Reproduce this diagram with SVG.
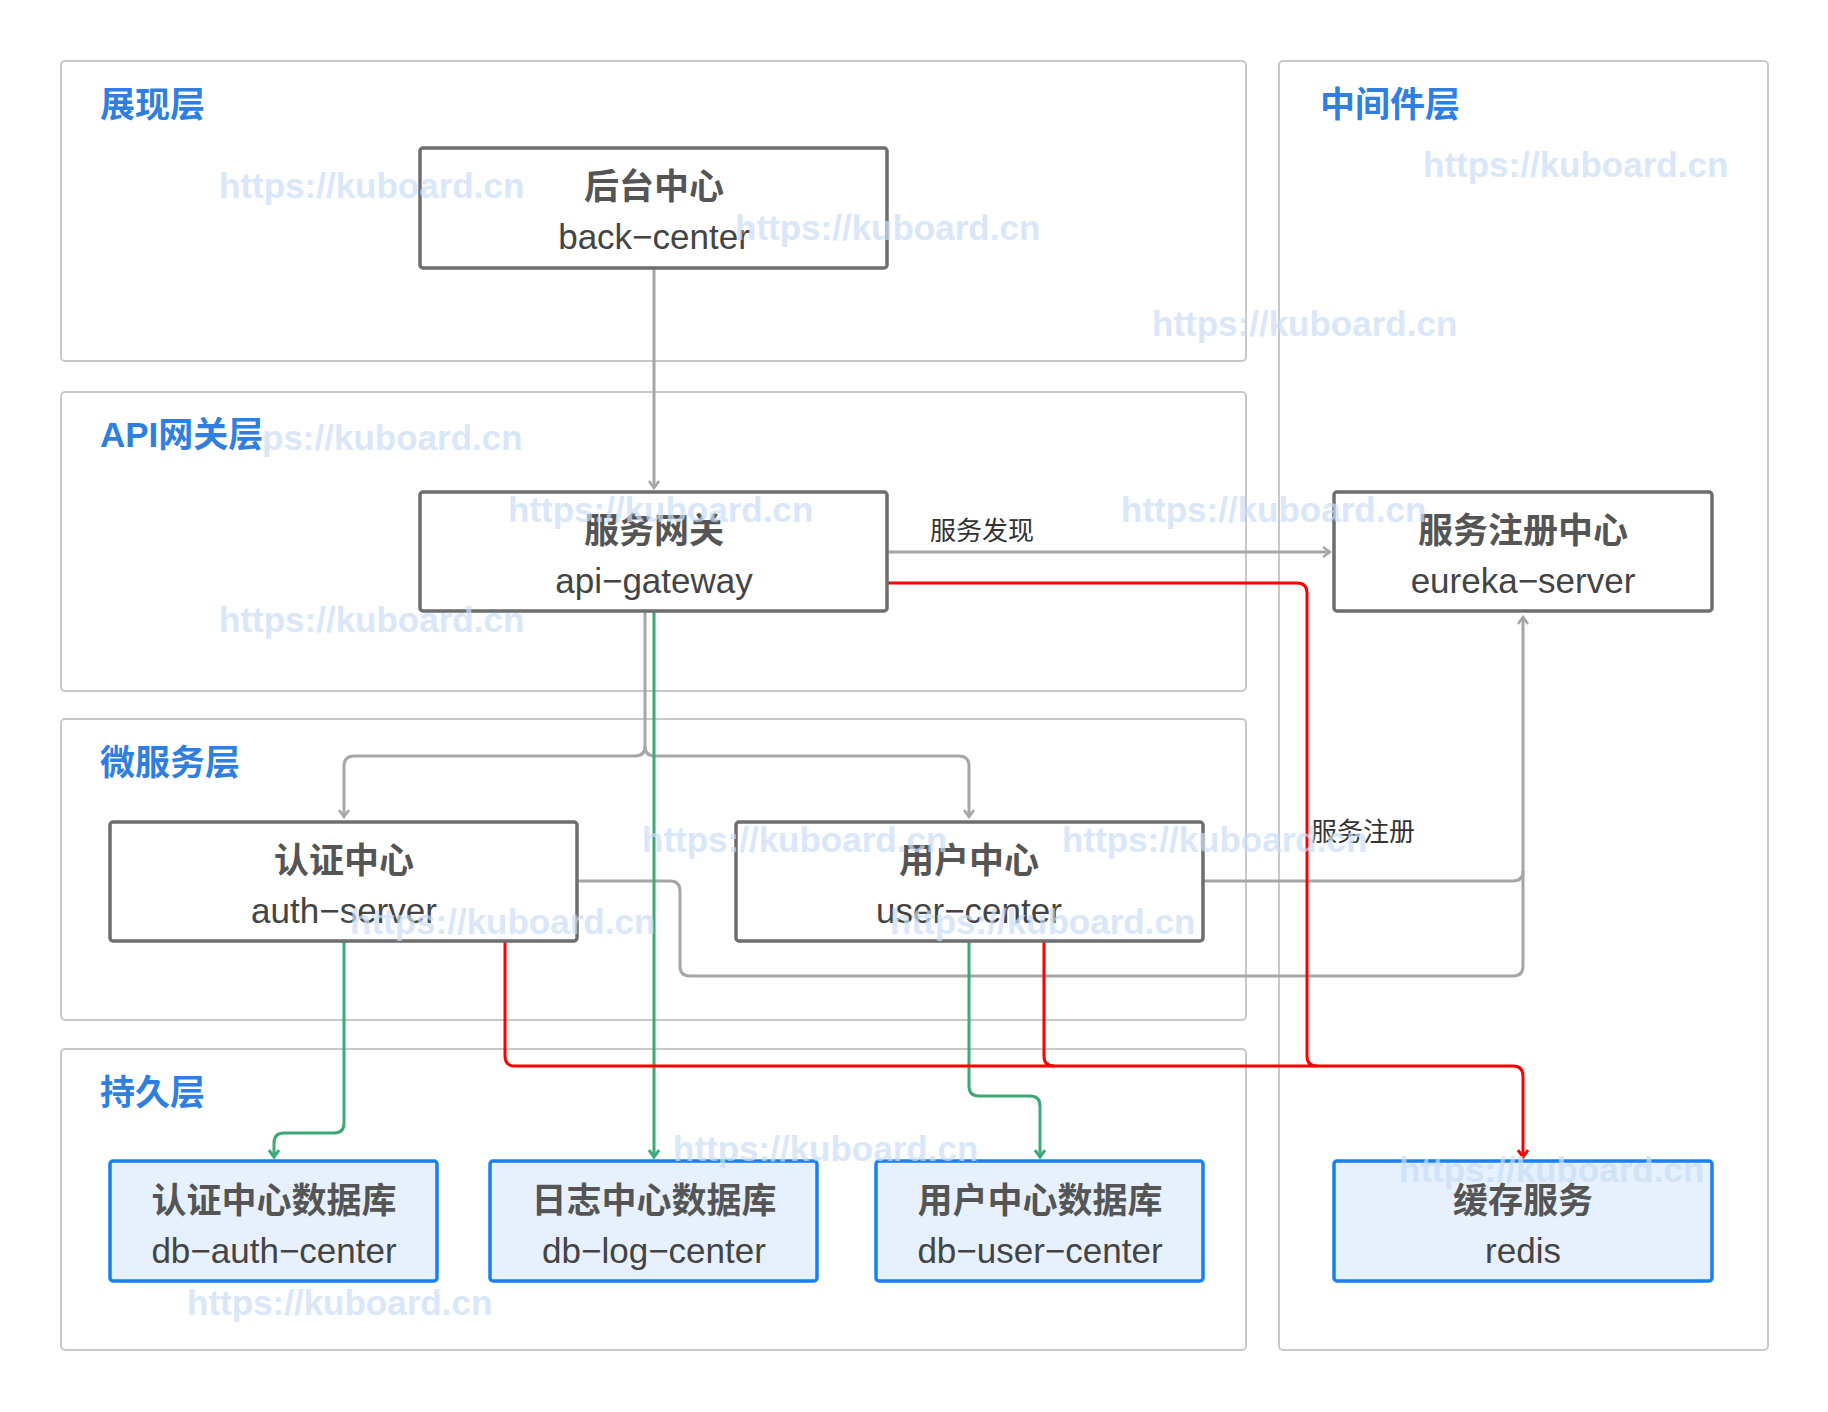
<svg xmlns="http://www.w3.org/2000/svg" width="1828" height="1412" viewBox="0 0 1828 1412">
<defs>
<marker id="ag" viewBox="0 0 12 12" refX="10" refY="6" markerWidth="12" markerHeight="12" markerUnits="userSpaceOnUse" orient="auto"><path d="M3,1 L10,6 L3,11" fill="none" stroke="#a6a6a6" stroke-width="2.5"/></marker>
<marker id="agn" viewBox="0 0 12 12" refX="10" refY="6" markerWidth="12" markerHeight="12" markerUnits="userSpaceOnUse" orient="auto"><path d="M3,1 L10,6 L3,11" fill="none" stroke="#3daa75" stroke-width="3"/></marker>
<marker id="ard" viewBox="0 0 12 12" refX="10" refY="6" markerWidth="12" markerHeight="12" markerUnits="userSpaceOnUse" orient="auto"><path d="M3,1 L10,6 L3,11" fill="none" stroke="#ff0000" stroke-width="3"/></marker>
</defs>
<style>
.layer{fill:#fff;stroke:#c8c8c8;stroke-width:2}
.lt{font-family:"Liberation Sans","Noto Sans CJK SC",sans-serif;font-size:35px;font-weight:bold;fill:#2f7fe0}
.node{fill:#fff;stroke:#6e6e6e;stroke-width:3.5}
.db{fill:#e6f1fd;stroke:#1a7ff0;stroke-width:3.5}
.t1{font-family:"Liberation Sans","Noto Sans CJK SC",sans-serif;font-size:35px;font-weight:bold;fill:#555;text-anchor:middle}
.t2{font-family:"Liberation Sans","Noto Sans CJK SC",sans-serif;font-size:35px;fill:#444;text-anchor:middle}
.gr{fill:none;stroke:#a6a6a6;stroke-width:3}
.gn{fill:none;stroke:#3daa75;stroke-width:3}
.rd{fill:none;stroke:#ff0000;stroke-width:3}
.cl{font-family:"Liberation Sans","Noto Sans CJK SC",sans-serif;font-size:26px;fill:#333}
.wm{font-family:"Liberation Sans",sans-serif;font-size:35px;font-weight:bold;fill:#c9def7;opacity:0.7}
</style>
<g id="layers">
<rect class="layer" x="61" y="61" width="1185" height="300" rx="4"/>
<rect class="layer" x="61" y="392" width="1185" height="299" rx="4"/>
<rect class="layer" x="61" y="719" width="1185" height="301" rx="4"/>
<rect class="layer" x="61" y="1049" width="1185" height="301" rx="4"/>
<rect class="layer" x="1279" y="61" width="489" height="1289" rx="4"/>
<text class="lt" x="100" y="117">展现层</text>
<text class="lt" x="100" y="447">API网关层</text>
<text class="lt" x="100" y="775">微服务层</text>
<text class="lt" x="100" y="1105">持久层</text>
<text class="lt" x="1320" y="117">中间件层</text>
</g>
<g id="connectors">
<path class="gr" d="M654,268 V488" marker-end="url(#ag)"/>
<path class="gr" d="M887,552 H1330" marker-end="url(#ag)"/>
<text class="cl" x="930" y="540">服务发现</text>
<path class="gr" d="M645,611 V746 Q645,756 635,756 H354 Q344,756 344,766 V817" marker-end="url(#ag)"/>
<path class="gr" d="M645,746 Q645,756 655,756 H959 Q969,756 969,766 V817" marker-end="url(#ag)"/>
<path class="gr" d="M577,881 H670 Q680,881 680,891 V966 Q680,976 690,976 H1513 Q1523,976 1523,966 V617" marker-end="url(#ag)"/>
<path class="gr" d="M1203,881 H1513 Q1523,881 1523,871"/>
<text class="cl" x="1311" y="841">服务注册</text>
<path class="gn" d="M654,611 V1157" marker-end="url(#agn)"/>
<path class="gn" d="M344,941 V1123 Q344,1133 334,1133 H284 Q274,1133 274,1143 V1157" marker-end="url(#agn)"/>
<path class="gn" d="M969,941 V1086 Q969,1096 979,1096 H1030 Q1040,1096 1040,1106 V1157" marker-end="url(#agn)"/>
<path class="rd" d="M880,583 H1297 Q1307,583 1307,593 V1056 Q1307,1066 1317,1066"/>
<path class="rd" d="M505,941 V1056 Q505,1066 515,1066 H1513 Q1523,1066 1523,1076 V1157" marker-end="url(#ard)"/>
<path class="rd" d="M1044,941 V1056 Q1044,1066 1054,1066"/>
</g>
<g id="back-center"><rect class="node" x="420" y="148" width="467" height="120" rx="3"/><text class="t1" x="654" y="199">后台中心</text><text class="t2" x="654" y="249">back−center</text></g>
<g id="api-gateway"><rect class="node" x="420" y="492" width="467" height="119" rx="3"/><text class="t1" x="654" y="543">服务网关</text><text class="t2" x="654" y="593">api−gateway</text></g>
<g id="eureka-server"><rect class="node" x="1334" y="492" width="378" height="119" rx="3"/><text class="t1" x="1523" y="543">服务注册中心</text><text class="t2" x="1523" y="593">eureka−server</text></g>
<g id="auth-server"><rect class="node" x="110" y="822" width="467" height="119" rx="3"/><text class="t1" x="344" y="873">认证中心</text><text class="t2" x="344" y="923">auth−server</text></g>
<g id="user-center"><rect class="node" x="736" y="822" width="467" height="119" rx="3"/><text class="t1" x="969" y="873">用户中心</text><text class="t2" x="969" y="923">user−center</text></g>
<g id="db-auth-center"><rect class="db" x="110" y="1161" width="327" height="120" rx="3"/><text class="t1" x="274" y="1213">认证中心数据库</text><text class="t2" x="274" y="1263">db−auth−center</text></g>
<g id="db-log-center"><rect class="db" x="490" y="1161" width="327" height="120" rx="3"/><text class="t1" x="654" y="1213">日志中心数据库</text><text class="t2" x="654" y="1263">db−log−center</text></g>
<g id="db-user-center"><rect class="db" x="876" y="1161" width="327" height="120" rx="3"/><text class="t1" x="1040" y="1213">用户中心数据库</text><text class="t2" x="1040" y="1263">db−user−center</text></g>
<g id="redis"><rect class="db" x="1334" y="1161" width="378" height="120" rx="3"/><text class="t1" x="1523" y="1213">缓存服务</text><text class="t2" x="1523" y="1263">redis</text></g>
<g id="watermarks">
<text class="wm" x="219" y="198">https://kuboard.cn</text>
<text class="wm" x="735" y="240">https://kuboard.cn</text>
<text class="wm" x="1423" y="177">https://kuboard.cn</text>
<text class="wm" x="1152" y="336">https://kuboard.cn</text>
<text class="wm" x="262" y="450">ps://kuboard.cn</text>
<text class="wm" x="508" y="522">https://kuboard.cn</text>
<text class="wm" x="1121" y="522">https://kuboard.cn</text>
<text class="wm" x="219" y="632">https://kuboard.cn</text>
<text class="wm" x="642" y="852">https://kuboard.cn</text>
<text class="wm" x="1062" y="852">https://kuboard.cn</text>
<text class="wm" x="350" y="934">https://kuboard.cn</text>
<text class="wm" x="890" y="934">https://kuboard.cn</text>
<text class="wm" x="673" y="1161">https://kuboard.cn</text>
<text class="wm" x="1399" y="1182">https://kuboard.cn</text>
<text class="wm" x="187" y="1315">https://kuboard.cn</text>
</g>
</svg>
